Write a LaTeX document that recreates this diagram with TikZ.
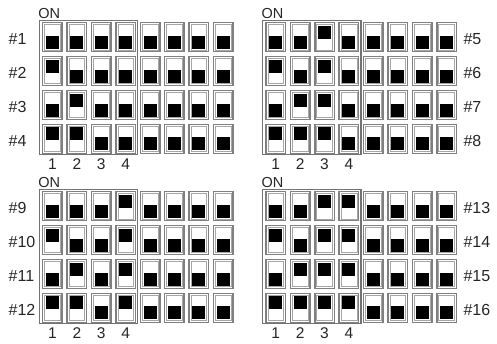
\documentclass[tikz,border=0pt]{standalone}
\usepackage{fontspec}
\setmainfont{Liberation Sans}

\begin{document}
\begin{tikzpicture}[x=1pt,y=-1pt,
    frame/.style={draw=black!55, line width=1.5pt},
    swouter/.style={draw=black!50, line width=1.5pt},
    swinner/.style={draw=black!35, line width=0.5pt},
    lever/.style={fill=black},
    idlabel/.style={inner sep=0pt, text=black!85, font=\fontsize{16}{16}\selectfont},
    onlabel/.style={inner sep=0pt, text=black!85, font=\fontsize{14.5}{14.5}\selectfont},
    poslabel/.style={inner sep=0pt, text=black!85, font=\fontsize{15.5}{15.5}\selectfont}]

    \useasboundingbox (0,0) rectangle (497,343);

    % パラメータの定義
    \pgfmathsetmacro{\dx}{24.4}
    \pgfmathsetmacro{\dy}{33.9}
    \pgfmathsetmacro{\W}{19.5}
    \pgfmathsetmacro{\H}{29}
    \pgfmathsetmacro{\S}{13}

    % ブロック (原点 x / 原点 y / 最初の番号 / ラベルの x)
    \foreach \ox/\oy/\n/\lx in {42.7/22.7/1/8.5, 266/22.7/5/463.3,
                                42.7/191.7/9/8.5, 266/191.7/13/463.3}{

        % 枠と ON
        \draw [frame] (\ox-3.4,\oy-2.2) rectangle (\ox+95,\oy+132);
        \node [onlabel, anchor=base west] (on\n) at (\ox-4.5,\oy-4.5) {ON};

        % スイッチ番号
        \foreach \k in {1,...,4}{
            \node [poslabel, anchor=base] (pos\n-\k)
                at (\ox+\W/2+\dx*\k-\dx,\oy+147) {\k};
        }

        % 各行
        \foreach \r in {0,...,3}{
            \pgfmathtruncatemacro{\m}{\n+\r}
            \pgfmathsetmacro{\yt}{\oy+\r*\dy}
            \node [idlabel, anchor=base west] (id\m) at (\lx,\yt+22) {\#\m};

            \foreach \k in {0,...,7}{
                \pgfmathsetmacro{\xl}{\ox+\k*\dx}
                \pgfmathtruncatemacro{\on}{mod(floor((\m-1)/2^\k),2)}
                \draw [swouter] (\xl,\yt) rectangle ++(\W,\H);
                \draw [swinner] (\xl+1.9,\yt+1.9) rectangle ++(\W-3.8,\H-3.8);
                \ifnum\on=1
                    \fill [lever] (\xl+3.25,\yt+3) rectangle ++(\S,\S);
                \else
                    \fill [lever] (\xl+3.25,\yt+\H-3) rectangle ++(\S,-\S);
                \fi
            }
        }
    }

\end{tikzpicture}
\end{document}
